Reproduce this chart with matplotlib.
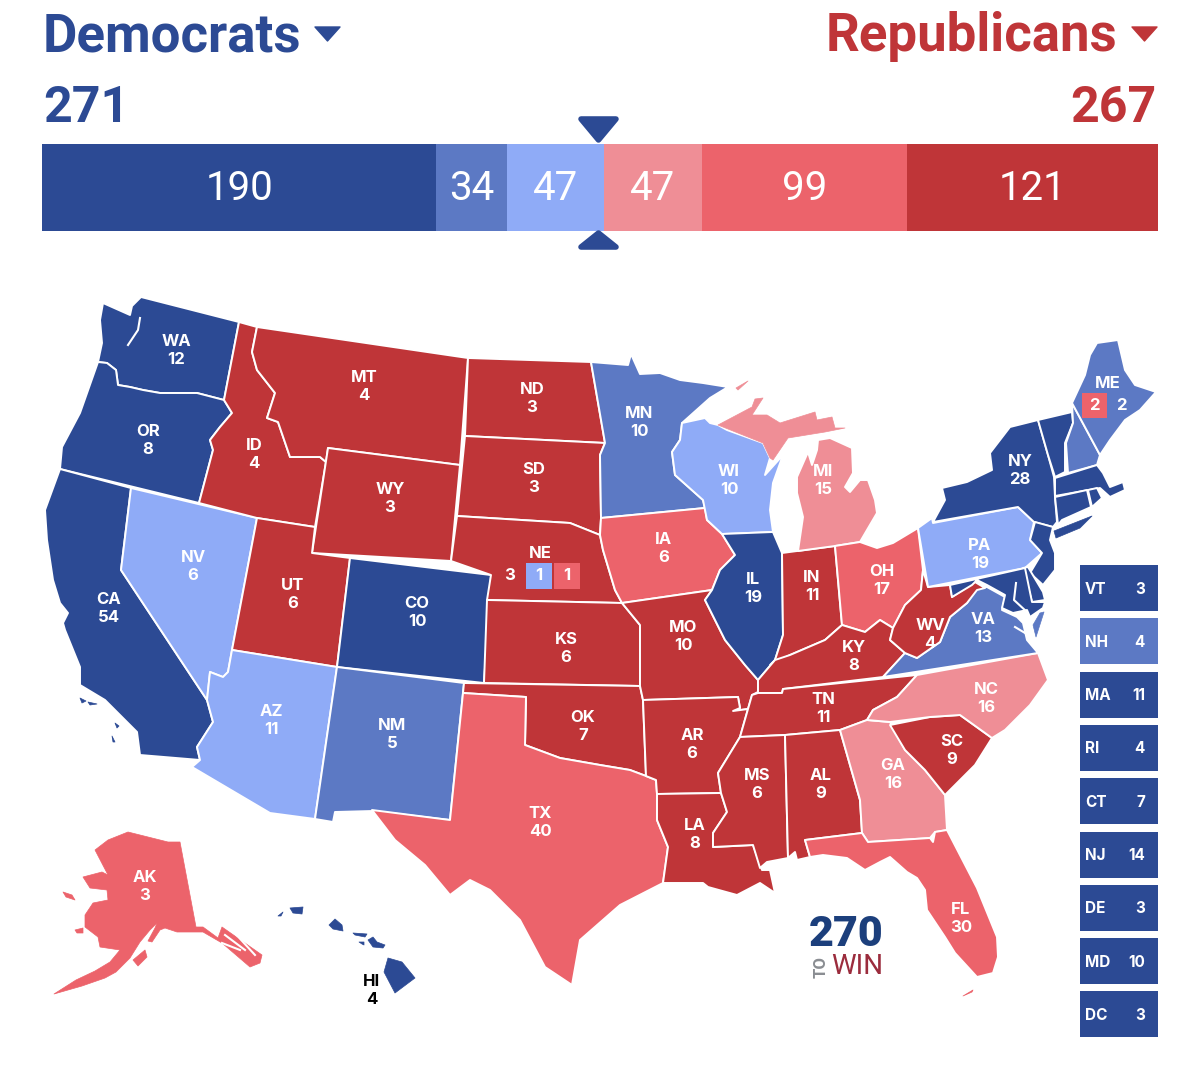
import matplotlib
matplotlib.use('Agg')
import matplotlib.pyplot as plt
from matplotlib.patches import Polygon, Rectangle

DARK_BLUE = '#2C4A94'
MID_BLUE = '#5C79C4'
LIGHT_BLUE = '#8FABF7'
LIGHT_RED = '#EF8E96'
MID_RED = '#EC636B'
DARK_RED = '#BF3538'

# Data
dem_total = 271
rep_total = 267
bar_seats = [190, 34, 47, 47, 99, 121]
bar_colors = [DARK_BLUE, MID_BLUE, LIGHT_BLUE, LIGHT_RED, MID_RED, DARK_RED]

votes = {'WA': 12, 'OR': 8, 'CA': 54, 'NV': 6, 'ID': 4, 'MT': 4, 'WY': 3, 'UT': 6, 'AZ': 11, 'CO': 10,
         'NM': 5, 'ND': 3, 'SD': 3, 'KS': 6, 'OK': 7, 'TX': 40, 'MN': 10, 'IA': 6, 'MO': 10,
         'AR': 6, 'LA': 8, 'WI': 10, 'IL': 19, 'MI': 15, 'IN': 11, 'OH': 17, 'KY': 8, 'TN': 11, 'MS': 6,
         'AL': 9, 'GA': 16, 'FL': 30, 'SC': 9, 'NC': 16, 'VA': 13, 'WV': 4, 'PA': 19, 'NY': 28,
         'AK': 3, 'HI': 4}

dark_blue_states = ['WA', 'OR', 'CA', 'CO', 'IL', 'NY', 'VT', 'MA', 'RI', 'CT', 'NJ', 'DE', 'MD', 'HI']
mid_blue_states = ['NM', 'MN', 'VA', 'NH', 'ME']
light_blue_states = ['NV', 'AZ', 'WI', 'PA']
light_red_states = ['MI', 'GA', 'NC']
mid_red_states = ['TX', 'IA', 'OH', 'FL', 'AK']
dark_red_states = ['ID', 'MT', 'WY', 'UT', 'ND', 'SD', 'NE', 'KS', 'OK', 'MO', 'AR', 'LA', 'IN', 'KY',
                   'TN', 'MS', 'AL', 'SC', 'WV']

side_names = ['VT', 'NH', 'MA', 'RI', 'CT', 'NJ', 'DE', 'MD', 'DC']
side_votes = [3, 4, 11, 4, 7, 14, 3, 10, 3]
side_colors = [DARK_BLUE, MID_BLUE, DARK_BLUE, DARK_BLUE, DARK_BLUE, DARK_BLUE, DARK_BLUE, DARK_BLUE, DARK_BLUE]

# state outlines traced in image pixels
shapes = {
    'WA': [[(103,303),(130,315),(132,306),(141,297),(239,322),(224,400),(197,393),(160,393),(143,390),(130,387),(118,385),(116,370),(107,363),(98,362),(102,343),(100,320)]],
    'OR': [[(98,362),(107,363),(116,370),(118,385),(130,387),(143,390),(160,393),(197,393),(224,400),(232,413),(220,427),(210,440),(213,450),(199,503),(60,469),(62,447),(80,413)]],
    'CA': [[(60,469),(131,488),(121,570),(207,700),(213,722),(197,747),(200,760),(140,755),(137,732),(120,715),(105,700),(80,685),(80,667),(65,630),(63,623),(68,613),(60,603),(53,580),(47,540),(45,510)],
           [(80,698),(86,701),(82,703)],[(88,702),(97,704),(90,705)],[(115,723),(119,726),(117,728)],[(112,736),(115,742),(113,742)]],
    'NV': [[(131,488),(257,518),(232,650),(228,672),(223,677),(210,672),(207,700),(121,570)]],
    'ID': [[(239,322),(257,327),(252,352),(257,370),(275,393),(267,418),(278,422),(290,457),(320,457),(326,462),(315,527),(257,518),(199,503),(213,450),(210,440),(220,427),(232,413),(224,400)]],
    'MT': [[(257,327),(468,358),(460,465),(328,448),(326,462),(320,457),(290,457),(278,422),(267,418),(275,393),(257,370),(252,352)]],
    'WY': [[(328,448),(460,465),(451,561),(312,553)]],
    'UT': [[(257,518),(315,527),(312,553),(350,558),(337,667),(232,650)]],
    'CO': [[(350,558),(491,575),(484,683),(337,667)]],
    'AZ': [[(232,650),(337,667),(315,819),(270,813),(192,767),(200,760),(197,747),(213,722),(207,700),(210,672),(223,677),(228,672)]],
    'NM': [[(337,667),(464,683),(450,820),(373,811),(335,812),(333,822),(315,819)]],
    'ND': [[(468,358),(591,362),(605,443),(465,436)]],
    'SD': [[(465,436),(605,443),(600,455),(601,518),(600,535),(570,523),(457,516)]],
    'NE': [[(457,516),(570,523),(600,535),(603,550),(615,590),(622,603),(487,600),(491,575),(451,561)]],
    'KS': [[(487,600),(622,603),(640,625),(640,686),(484,683)]],
    'OK': [[(464,683),(640,686),(643,700),(646,776),(630,770),(600,765),(560,758),(525,745),(526,697),(463,693)]],
    'TX': [[(463,693),(526,697),(525,745),(560,758),(600,765),(630,770),(646,776),(656,780),(657,794),(657,820),(668,847),(663,883),(620,905),(580,940),(572,985),(545,967),(520,920),(490,890),(470,880),(450,895),(425,865),(395,840),(372,810),(450,820)]],
    'MN': [[(591,362),(628,365),(631,354),(640,374),(660,373),(680,380),(703,383),(728,387),(710,398),(682,423),(680,440),(672,452),(675,475),(703,500),(705,508),(601,518),(600,455),(605,443)]],
    'IA': [[(601,518),(705,508),(707,520),(722,534),(735,555),(720,570),(712,590),(622,603),(615,590),(603,550),(600,535)]],
    'MO': [[(622,603),(712,590),(705,600),(725,640),(745,665),(758,680),(758,692),(752,695),(748,709),(733,711),(740,708),(738,697),(643,700),(640,686),(640,625)]],
    'AR': [[(643,700),(738,697),(740,708),(733,711),(748,709),(740,737),(718,773),(721,793),(657,794),(656,780),(646,776)]],
    'LA': [[(657,794),(721,793),(727,812),(713,833),(713,847),(753,845),(762,870),(770,870),(775,893),(760,883),(737,895),(708,887),(703,883),(663,883),(668,847),(657,820)]],
    'WI': [[(682,423),(705,418),(710,423),(718,425),(727,430),(763,443),(770,458),(765,475),(783,455),(773,483),(770,510),(773,532),(722,534),(707,520),(703,500),(675,475),(672,452),(680,440)]],
    'IL': [[(722,534),(773,532),(782,553),(783,635),(775,660),(758,680),(745,665),(725,640),(705,600),(712,590),(720,570),(735,555)]],
    'IN': [[(782,553),(835,546),(842,625),(825,640),(790,655),(770,665),(775,660),(783,635)]],
    'MI': [[(798,551),(835,546),(860,542),(867,530),(877,513),(875,500),(868,480),(860,480),(850,492),(845,487),(853,473),(852,448),(830,438),(818,440),(817,450),(812,465),(808,452),(797,477),(797,493),(803,517)],
           [(718,425),(752,407),(755,399),(763,398),(752,415),(767,415),(780,423),(815,412),(817,420),(832,417),(835,428),(845,428),(825,432),(788,438),(773,460),(770,458),(763,443)],
           [(736,388),(748,381),(738,390)]],
    'OH': [[(835,546),(860,542),(877,548),(893,543),(918,528),(923,570),(921,590),(905,605),(893,628),(880,620),(865,632),(842,625)]],
    'KY': [[(842,625),(865,632),(880,620),(893,628),(890,640),(905,653),(883,677),(783,689),(782,693),(758,693),(758,680),(775,660),(790,655),(825,640)]],
    'TN': [[(752,695),(758,693),(782,693),(783,689),(917,675),(897,697),(873,710),(867,720),(840,730),(785,735),(740,737),(748,709)]],
    'MS': [[(740,737),(785,735),(788,858),(767,862),(760,868),(753,845),(713,847),(713,833),(727,812),(721,793),(718,773)]],
    'AL': [[(785,735),(840,730),(860,800),(862,833),(805,840),(810,857),(797,860),(795,852),(788,858)]],
    'GA': [[(840,730),(867,720),(890,722),(905,750),(925,770),(945,795),(947,830),(935,832),(930,838),(868,842),(862,833),(860,800)]],
    'FL': [[(805,840),(862,833),(868,842),(930,838),(933,842),(935,832),(947,830),(977,888),(997,937),(998,957),(993,973),(977,977),(955,953),(945,937),(927,910),(925,890),(917,878),(907,872),(890,857),(880,862),(865,870),(847,858),(823,855),(810,857)],
           [(963,996),(973,990),(972,992)]],
    'SC': [[(890,725),(930,717),(960,715),(992,738),(975,765),(945,795),(925,770),(905,750)]],
    'NC': [[(917,675),(1038,653),(1048,680),(1030,705),(1005,730),(992,738),(960,715),(930,717),(890,722),(867,720),(873,710),(897,697)]],
    'VA': [[(987,587),(1005,597),(1002,610),(1017,617),(1023,623),(1027,640),(1038,653),(883,677),(905,653),(917,658),(940,642),(950,617),(967,603),(977,588)],
           [(1040,613),(1044,612),(1036,637),(1033,625)]],
    'WV': [[(923,570),(928,587),(950,585),(952,597),(975,582),(985,588),(977,590),(967,603),(950,617),(940,642),(917,658),(905,653),(890,640),(893,628),(905,605),(921,590)]],
    'PA': [[(918,528),(932,518),(933,523),(1018,507),(1034,522),(1030,540),(1042,553),(1025,568),(928,587)]],
    'NY': [[(933,522),(1018,507),(1034,522),(1053,527),(1057,522),(1055,497),(1054,477),(1048,455),(1038,420),(1010,427),(990,453),(992,470),(967,482),(942,488),(945,500)],
           [(1054,531),(1092,516),(1080,528),(1056,538)]],
    'VT': [[(1038,420),(1072,412),(1073,423),(1065,443),(1065,472),(1055,477),(1048,455)]],
    'NH': [[(1072,403),(1100,455),(1097,465),(1068,473),(1066,443),(1073,423)]],
    'ME': [[(1097,343),(1118,340),(1125,370),(1135,385),(1156,392),(1140,410),(1125,420),(1110,440),(1100,455),(1072,403),(1085,375),(1090,355)]],
    'MA': [[(1055,478),(1097,465),(1103,473),(1110,487),(1123,482),(1125,490),(1110,497),(1100,488),(1055,496)]],
    'RI': [[(1088,490),(1097,488),(1102,498),(1092,507)]],
    'CT': [[(1055,497),(1087,490),(1091,507),(1062,520),(1058,525)]],
    'NJ': [[(1035,522),(1053,527),(1050,540),(1055,553),(1055,570),(1043,585),(1030,573),(1042,553),(1030,540)]],
    'DE': [[(1023,568),(1028,567),(1043,592),(1045,600),(1032,602)]],
    'MD': [[(950,585),(1025,568),(1032,602),(1045,602),(1043,608),(1030,617),(1027,610),(1013,613),(1002,608),(1005,595),(987,585),(977,580),(972,585),(952,597)]],
    'AK': [[(128,832),(168,842),(180,842),(196,927),(203,927),(218,938),(222,927),(262,955),(260,963),(250,967),(222,943),(203,932),(177,932),(165,928),(160,930),(152,942),(148,941),(155,928),(157,923),(150,930),(140,942),(130,958),(116,972),(105,978),(82,986),(54,994),(76,980),(95,971),(110,962),(120,950),(100,947),(98,937),(85,927),(85,915),(93,903),(108,900),(107,890),(90,888),(83,877),(102,872),(108,875),(95,850),(108,840)],
           [(63,892),(72,895),(75,900),(66,897)],[(75,930),(83,928),(83,933),(77,933)],[(133,960),(145,950),(147,957),(138,966)]],
    'HI': [[(290,908),(303,907),(302,914),(293,913)],[(278,916),(283,912),(281,916)],[(329,925),(335,919),(342,925),(343,931),(333,929)],
           [(353,933),(367,934),(365,937),(355,935)],[(359,942),(364,942),(364,945),(362,944)],[(368,940),(373,937),(377,942),(385,945),(383,948),(373,947)],
           [(388,958),(402,962),(415,978),(395,993),(384,972)]],
}

# white water lines drawn over the fills
water = [[(140,318),(138,330),(128,345)],
         [(1016,583),(1014,600),(1027,612),(1031,625),(1036,645)], [(1015,627),(1025,633)],
         [(225,935),(245,950)], [(232,930),(255,955)], [(222,943),(240,950)]]

# label centres in image pixels
label_pos = {'WA': (176,350), 'OR': (148,440), 'CA': (109,608), 'NV': (193,566), 'ID': (254,454), 'MT': (364,386),
             'WY': (390,499), 'UT': (293,594), 'AZ': (271,720), 'CO': (417,612), 'NM': (392,735), 'ND': (532,398),
             'SD': (534,479), 'KS': (566,648), 'OK': (583,726), 'TX': (540,823), 'MN': (639,423), 'IA': (664,549),
             'MO': (683,636), 'AR': (692,745), 'LA': (695,835), 'WI': (729,480), 'IL': (753,589), 'MI': (823,480),
             'IN': (812,586), 'OH': (882,580), 'KY': (854,656), 'TN': (823,709), 'MS': (757,785), 'AL': (821,785),
             'GA': (893,774), 'FL': (961,919), 'SC': (952,751), 'NC': (986,698), 'VA': (983,629), 'WV': (930,634),
             'PA': (980,554), 'NY': (1020,471), 'AK': (145,886), 'HI': (372,990)}

fig = plt.figure(figsize=(12, 10.68), dpi=100)
ax = fig.add_axes([0, 0, 1, 1])
ax.set_xlim(0, 1200)
ax.set_ylim(1068, 0)
ax.axis('off')
plt.rcParams['font.family'] = ['Roboto', 'DejaVu Sans']

# header
ax.text(43, 37, 'Democrats', color=DARK_BLUE, fontsize=38, fontweight='bold', va='center', ha='left')
ax.text(1117, 37, 'Republicans', color=DARK_RED, fontsize=38, fontweight='bold', va='center', ha='right')
ax.text(43, 109, str(dem_total), color=DARK_BLUE, fontsize=36, fontweight='bold', va='center', ha='left')
ax.text(1157, 109, str(rep_total), color=DARK_RED, fontsize=36, fontweight='bold', va='center', ha='right')
ax.add_patch(Polygon([(315,27),(340,27),(327.5,41)], color=DARK_BLUE, lw=1, joinstyle='round'))
ax.add_patch(Polygon([(1132,27),(1157,27),(1144.5,41)], color=DARK_RED, lw=1, joinstyle='round'))

# stacked seat bar, scaled so that 538 fills the width
bar_left = 42
bar_right = 1158
scale = (bar_right - bar_left) / sum(bar_seats)
left = bar_left
for seats, c in zip(bar_seats, bar_colors):
    w = seats * scale
    ax.barh(187.5, w, left=left, height=87, color=c, linewidth=0)
    ax.text(left + w / 2, 189, str(seats), color='white', fontsize=29, va='center', ha='center')
    left += w

# 270 marker
ax.add_patch(Polygon([(581,119),(616,119),(598.5,140)], color=DARK_BLUE, lw=4, joinstyle='round'))
ax.add_patch(Polygon([(581,247),(616,247),(598.5,233)], color=DARK_BLUE, lw=4, joinstyle='round'))

# map
colors = {}
for names, c in [(dark_blue_states, DARK_BLUE), (mid_blue_states, MID_BLUE), (light_blue_states, LIGHT_BLUE),
                 (light_red_states, LIGHT_RED), (mid_red_states, MID_RED), (dark_red_states, DARK_RED)]:
    for n in names:
        colors[n] = c

for name, polys in shapes.items():
    for i, pts in enumerate(polys):
        # islands and the two far states have no white border
        if name in ('AK', 'HI') or i > 0:
            ec = colors[name]
            lw = 0.5
        else:
            ec = 'white'
            lw = 1.4
        ax.add_patch(Polygon(pts, closed=True, facecolor=colors[name], edgecolor=ec, linewidth=lw, joinstyle='round'))

for line in water:
    ax.plot([p[0] for p in line], [p[1] for p in line], color='white', lw=1.5)

lab = dict(fontsize=12, fontweight='bold', ha='center', va='center', family='Inter')
for name, (x, y) in label_pos.items():
    col = 'black' if name == 'HI' else 'white'
    ax.text(x, y - 9, name, color=col, **lab)
    ax.text(x, y + 9, str(votes[name]), color=col, **lab)

# split states
ax.text(1108, 383, 'ME', color='white', **lab)
ax.add_patch(Rectangle((1082, 393), 25, 25, color=MID_RED, lw=0))
ax.text(1094.5, 405, '2', color='white', **lab)
ax.text(1121, 405, '2', color='white', **lab)
ax.text(540, 553, 'NE', color='white', **lab)
ax.text(510, 575, '3', color='white', **lab)
ax.add_patch(Rectangle((526, 563), 26, 26, color=LIGHT_BLUE, lw=0))
ax.text(539, 576, '1', color='white', **lab)
ax.add_patch(Rectangle((554, 563), 26, 26, color=MID_RED, lw=0))
ax.text(567, 576, '1', color='white', **lab)

# small state boxes
for i, (n, v, c) in enumerate(zip(side_names, side_votes, side_colors)):
    top = 565 + i * 53.3
    ax.add_patch(Rectangle((1080, top), 78, 46, color=c, lw=0))
    ax.text(1085, top + 24, n, color='white', fontsize=11, fontweight='bold', ha='left', va='center', family='Inter')
    ax.text(1145, top + 24, str(v), color='white', fontsize=11, fontweight='bold', ha='right', va='center', family='Inter')

# logo
ax.text(846, 934, '270', color='#1C3F7C', fontsize=31, fontweight='black', ha='center', va='center', family='Roboto')
ax.text(821, 967, 'TO', color='#8A8D92', fontsize=12, fontweight='bold', ha='center', va='center', rotation=90, family='Roboto')
ax.text(857, 966, 'WIN', color='#9B2C3D', fontsize=20, ha='center', va='center', family='Roboto')

fig.savefig('out.png', dpi=100)
